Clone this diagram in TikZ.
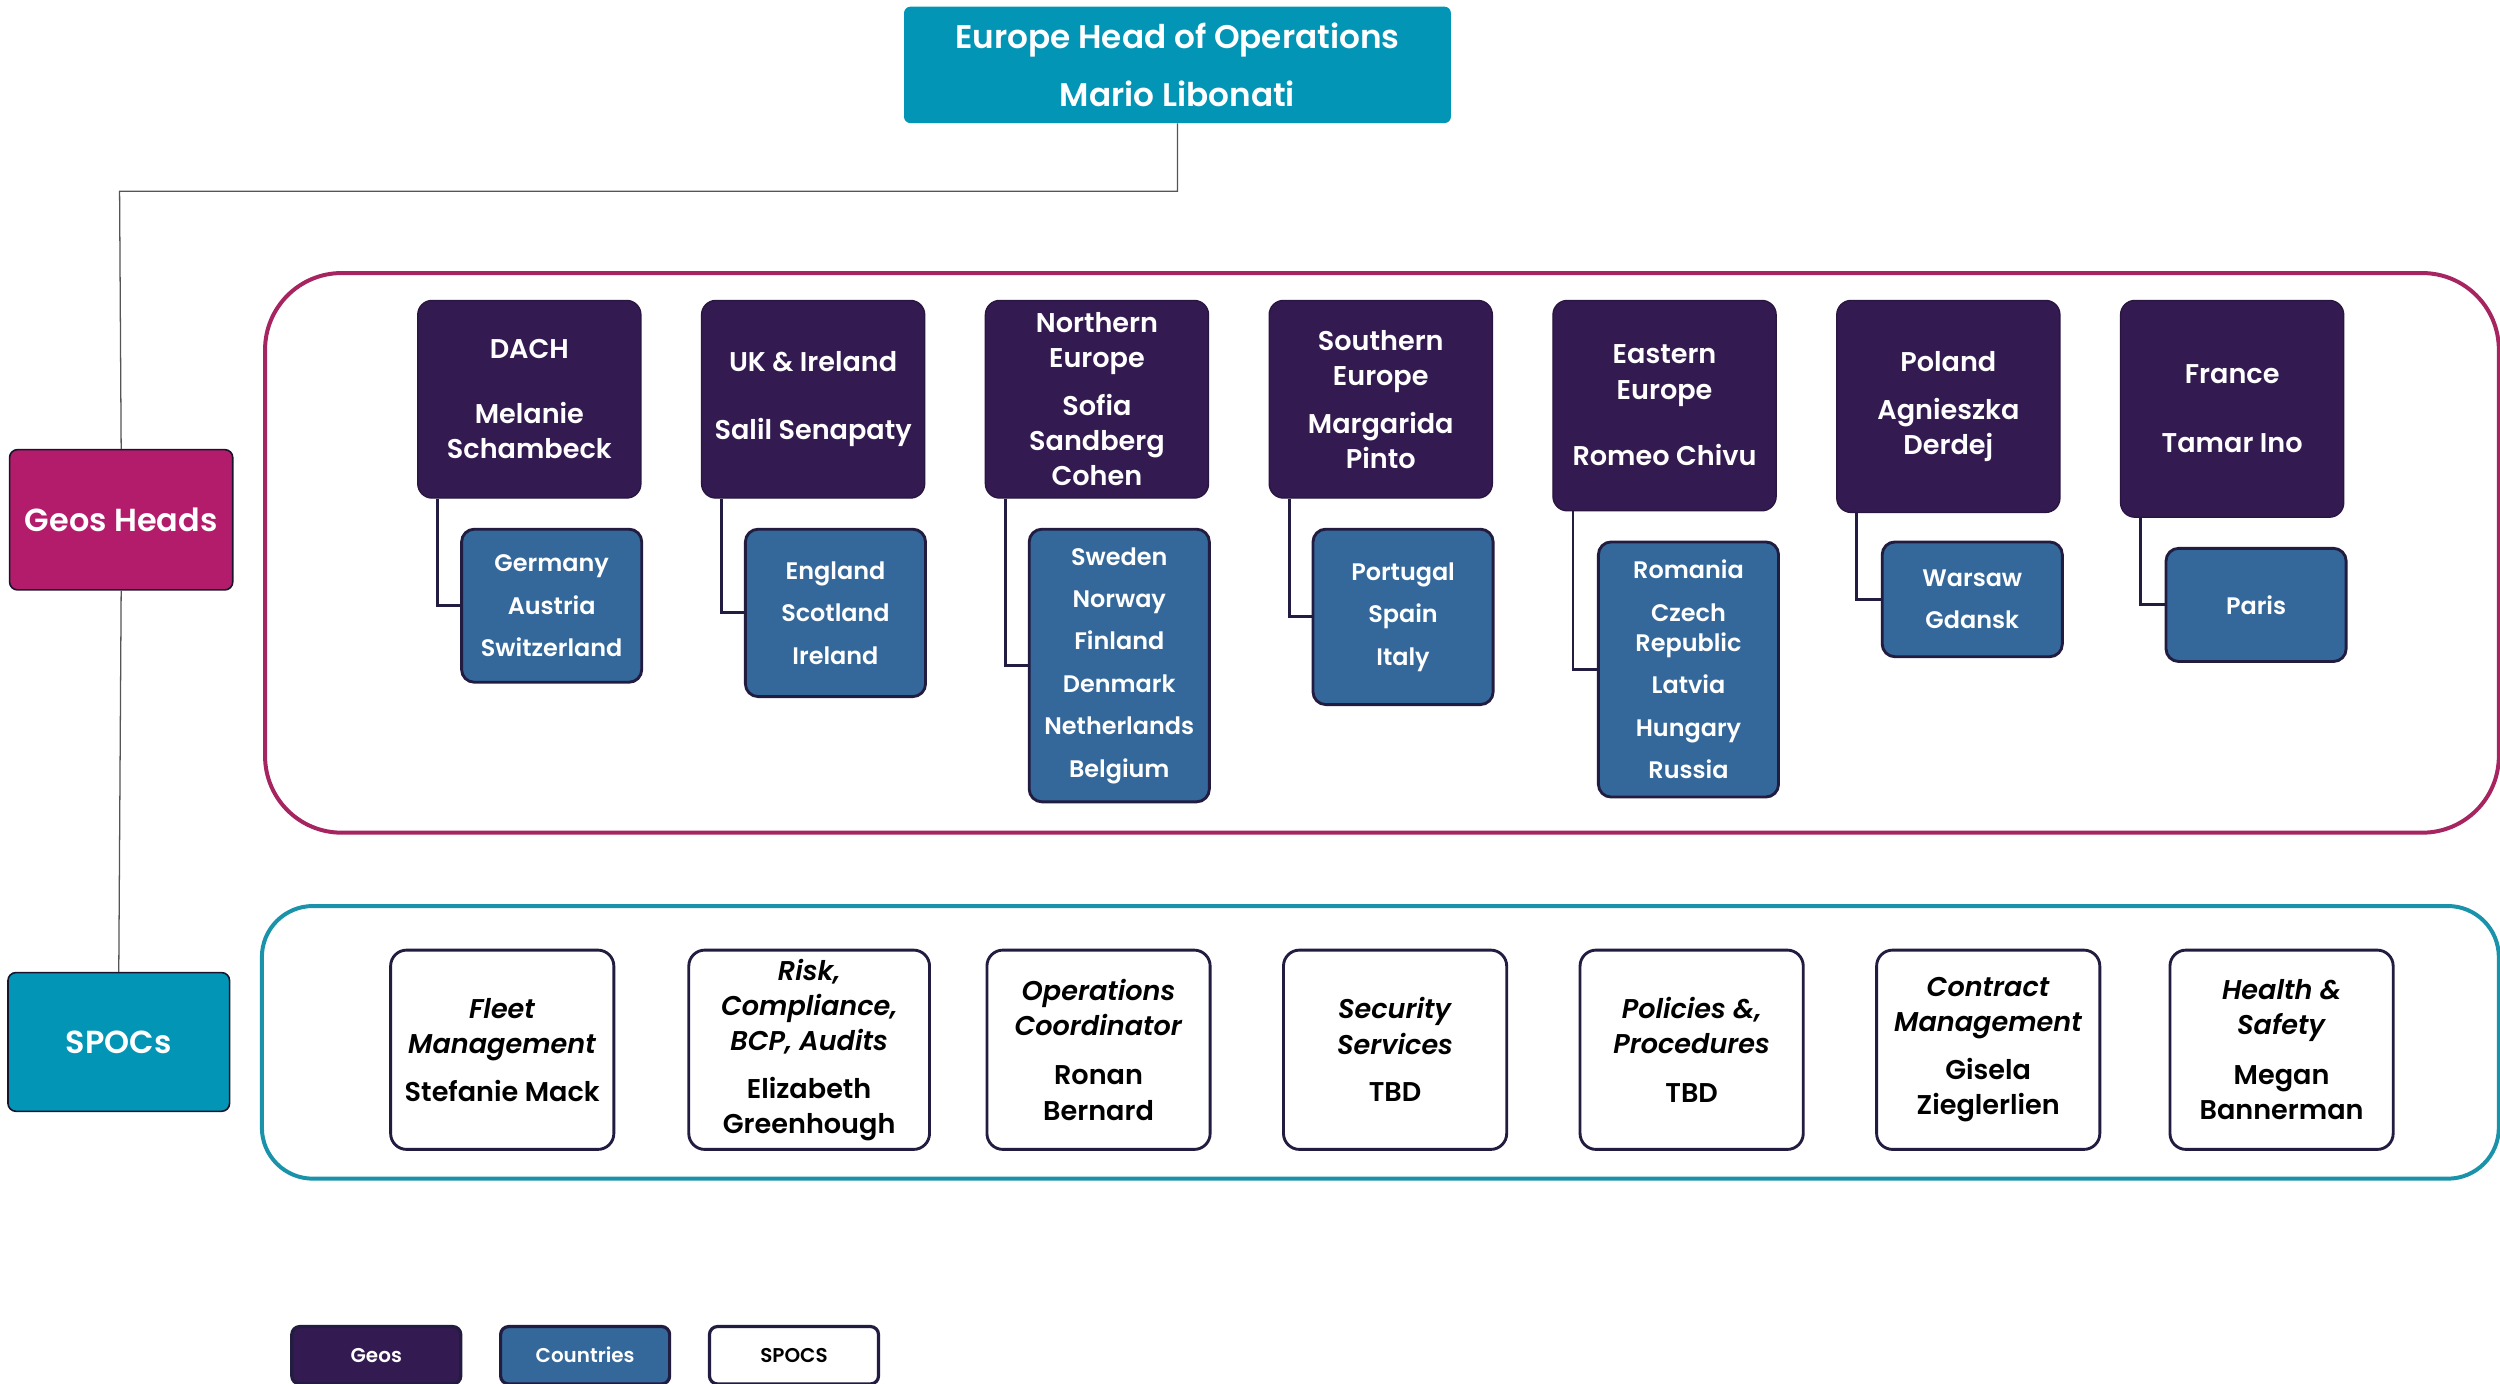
\documentclass[tikz,border=0pt]{standalone}
\usepackage{fontspec}
\setmainfont{Poppins}[BoldFont={Poppins SemiBold},BoldItalicFont={Poppins SemiBold Italic}]
\definecolor{teal}{HTML}{0395B6}
\definecolor{tealline}{HTML}{1A93AA}
\definecolor{magenta}{HTML}{B31C6B}
\definecolor{magline}{HTML}{A6245F}
\definecolor{geocol}{HTML}{331A50}
\definecolor{ctycol}{HTML}{34689A}
\definecolor{navy}{HTML}{221C40}
\definecolor{graylink}{HTML}{555555}
\begin{document}
\begin{tikzpicture}[x=1pt,y=-1pt,
  every node/.style={inner sep=0pt,align=center},
  headbox/.style={fill=teal,rounded corners=4pt,text=white,font=\fontsize{20.5}{22}\selectfont\bfseries},
  sidebox/.style={draw=navy!70!black,line width=1pt,rounded corners=5pt,text=white,minimum width=140pt,minimum height=88pt,font=\fontsize{20}{24}\selectfont\bfseries},
  frame/.style={line width=2.5pt,anchor=north west},
  geo/.style={fill=geocol,draw=geocol!80!black,line width=0.8pt,rounded corners=9pt,text=white,minimum width=140pt,anchor=north,font=\fontsize{17}{22}\selectfont\bfseries},
  cty/.style={fill=ctycol,draw=navy,line width=1.8pt,rounded corners=8pt,text=white,minimum width=113pt,anchor=north,font=\fontsize{15}{26.6}\selectfont\bfseries},
  spoc/.style={fill=white,draw=navy,line width=1.8pt,rounded corners=10pt,text=black,minimum width=140pt,minimum height=125pt,anchor=north,font=\fontsize{17}{22}\selectfont\bfseries},
  legend/.style={draw=navy,line width=2pt,rounded corners=5pt,minimum width=106pt,minimum height=36pt,anchor=north,font=\fontsize{12.5}{14}\selectfont\bfseries},
  link/.style={draw=navy,line width=1.8pt},
  toplink/.style={draw=graylink,line width=0.8pt}
]
\useasboundingbox (0,0) rectangle (1568,868);

% frames
\node[frame,draw=magline,rounded corners=48pt,minimum width=1401pt,minimum height=351pt] (geoframe) at (165,170) {};
\node[frame,draw=tealline,rounded corners=32pt,minimum width=1403pt,minimum height=171pt] (spocframe) at (163,567) {};

% head
\node[headbox,minimum width=343pt,minimum height=73pt,anchor=north] (head) at (738.5,4) {Europe Head of Operations\\[14pt]Mario Libonati};
\node[sidebox,fill=magenta] (geoshead) at (76,326) {Geos Heads};
\node[sidebox,fill=teal,minimum width=139pt,minimum height=87pt] (spocs) at (74.5,653.5) {SPOCs};
\coordinate (turn) at (75,120);
\draw[toplink] (head.south) |- (turn) -- (geoshead.north);
\draw[toplink] (geoshead.south) -- (spocs.north);

% geos
\node[geo,minimum height=124pt] (dach) at (332,188) {DACH\\[19pt]Melanie\\Schambeck};
\node[geo,minimum height=124pt] (uki) at (510,188) {UK \& Ireland\\[21pt]Salil Senapaty};
\node[geo,minimum height=124pt] (north) at (688,188) {Northern\\Europe\\[8pt]Sofia\\Sandberg\\Cohen};
\node[geo,minimum height=124pt] (south) at (866,188) {Southern\\Europe\\[8pt]Margarida\\Pinto};
\node[geo,minimum height=132pt] (east) at (1044,188) {Eastern\\Europe\\[20pt]Romeo Chivu};
\node[geo,minimum height=133pt] (poland) at (1222,188) {Poland\\[8pt]Agnieszka\\Derdej};
\node[geo,minimum height=136pt] (france) at (1400,188) {France\\[21pt]Tamar Ino};

% countries
\node[cty,minimum height=96pt] (dachc) at (346,331) {Germany\\Austria\\Switzerland};
\node[cty,minimum height=105pt] (ukic) at (524,331) {England\\Scotland\\Ireland};
\node[cty,minimum height=171pt] (northc) at (702,331) {Sweden\\Norway\\Finland\\Denmark\\Netherlands\\Belgium};
\node[cty,minimum height=110pt] (southc) at (880,331) {Portugal\\Spain\\Italy};
\node[cty,minimum height=160pt] (eastc) at (1059,339) {Romania\\Czech\\[-7.6pt]Republic\\Latvia\\Hungary\\Russia};
\node[cty,minimum height=72pt] (polandc) at (1237,339) {Warsaw\\Gdansk};
\node[cty,minimum height=71pt] (francec) at (1415,343) {Paris};

\foreach \g/\c in {dach/dachc,uki/ukic,north/northc,south/southc,east/eastc,poland/polandc,france/francec}
  \draw[link] ([xshift=13pt]\g.south west) |- (\c.west);

% spocs
\node[spoc] (fleet) at (315,595) {\textit{Fleet}\\\textit{Management}\\[8pt]Stefanie Mack};
\node[spoc,minimum width=151pt] (risk) at (507.5,595) {\textit{Risk,}\\\textit{Compliance,}\\\textit{BCP, Audits}\\[8pt]Elizabeth\\Greenhough};
\node[spoc] (ops) at (689,595) {\textit{Operations}\\\textit{Coordinator}\\[9pt]Ronan\\Bernard};
\node[spoc] (sec) at (875,595) {\textit{Security}\\\textit{Services}\\[8pt]TBD};
\node[spoc] (pol) at (1061,595) {\textit{Policies \&,}\\\textit{Procedures}\\[9pt]TBD};
\node[spoc] (contract) at (1247,595) {\textit{Contract}\\\textit{Management}\\[8pt]Gisela\\Zieglerlien};
\node[spoc] (health) at (1431,595) {\textit{Health \&}\\\textit{Safety}\\[9pt]Megan\\Bannerman};

% legend
\node[legend,fill=geocol,text=white] (lgeo) at (236,831) {Geos};
\node[legend,fill=ctycol,text=white] (lcty) at (367,831) {Countries};
\node[legend,fill=white,text=black] (lspoc) at (498,831) {SPOCS};
\end{tikzpicture}
\end{document}
